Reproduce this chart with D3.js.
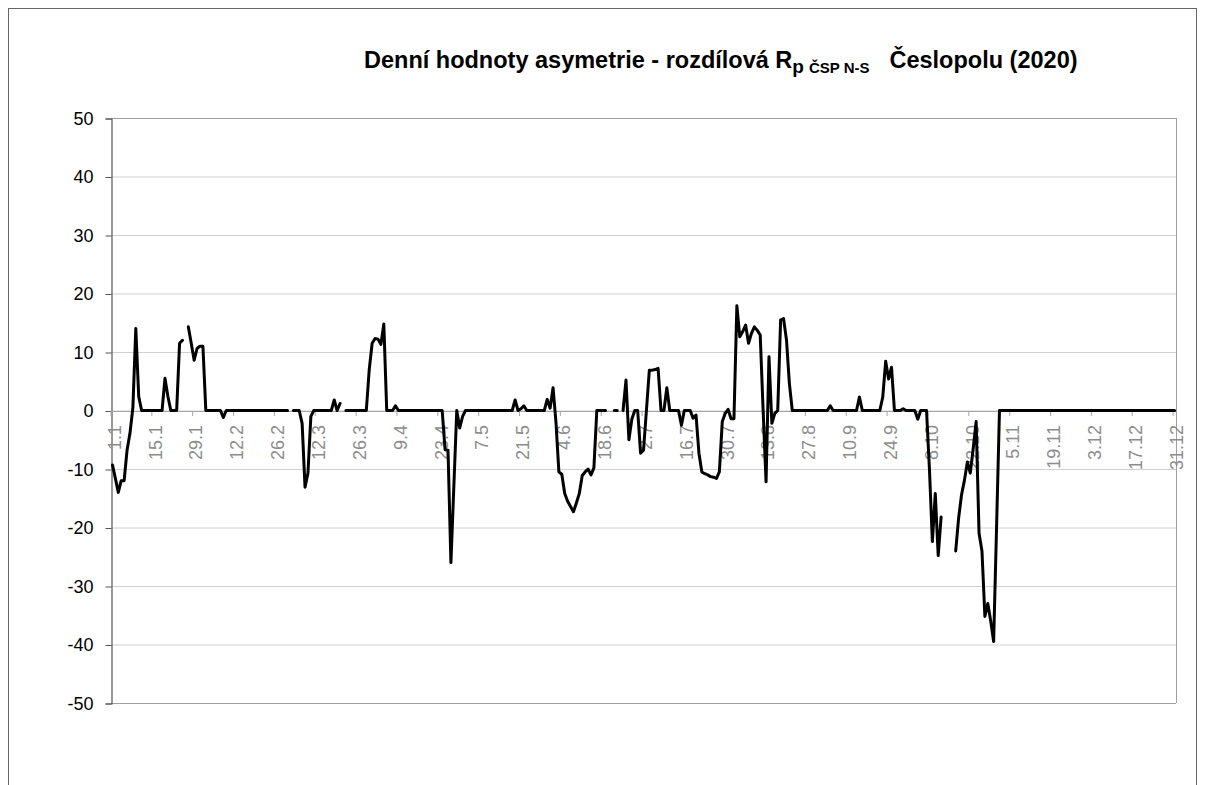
<!DOCTYPE html>
<html>
<head>
<meta charset="utf-8">
<script src="https://cdn.jsdelivr.net/npm/d3@7"></script>
<style>
  body { margin: 0; background: #fff; }
  svg { display: block; font-family: "Liberation Sans", Arial, sans-serif; }
</style>
</head>
<body>
<svg id="chart"></svg>
<script>
// daily values by month (null = no measurement)
var jan = [-9.3, -11.6, -14, -12, -12, -6.8, -3.9, 0.5, 14, 2.4, 0, 0, 0, 0, 0, 0, 0, 0, 5.5, 2.4, 0, 0, 0, 11.5, 12, null, 14.3, 11.5, 8.6, 10.6, 11]
var feb = [11, 0, 0, 0, 0, 0, 0, -1.2, 0, 0, 0, 0, 0, 0, 0, 0, 0, 0, 0, 0, 0, 0, 0, 0, 0, 0, 0, 0]
var mar = [0, 0, null, 0, 0, 0, -2.2, -13.1, -10.7, -1, 0, 0, 0, 0, 0, 0, 0, 1.8, 0, 1.2, null, 0, 0, 0, 0, 0, 0, 0, 0, 7, 11.5]
var apr = [12.3, 12.2, 11.3, 14.8, 0, 0, 0, 0.8, 0, 0, 0, 0, 0, 0, 0, 0, 0, 0, 0, 0, 0, 0, 0, 0, -6.7, -6.8, -26, -13, 0, -3]
var may = [-1, 0, 0, 0, 0, 0, 0, 0, 0, 0, 0, 0, 0, 0, 0, 0, 0, 0, 1.8, 0, 0.3, 0.8, 0, 0, 0, 0, 0, 0, 0, 1.9, 0.4]
var jun = [3.9, -2, -10.5, -10.9, -14.2, -15.5, -16.4, -17.3, -15.8, -14.2, -11.1, -10.5, -10, -11, -9.8, 0, 0, 0, 0, null, null, 0, 0, null, 0, 5.2, -5, -1.5, 0, 0]
var jul = [-7.3, -6.8, 0, 6.9, 6.9, 7.0, 7.2, 0, 0, 3.9, 0, 0, 0, 0, -2.5, 0, 0, 0, -1.3, -0.8, -7.3, -10.5, -10.8, -11.0, -11.3, -11.4, -11.6, -10.5, -1.9, -0.5, 0.2]
var aug = [-1.4, -1.4, 17.9, 12.6, 13.5, 14.6, 11.5, 13.2, 14.3, 13.7, 12.9, 0, -12.2, 9.2, -2.2, -0.5, 0, 15.5, 15.7, 12.1, 4.6, 0, 0, 0, 0, 0, 0, 0, 0, 0, 0]
var sep = [0, 0, 0, 0.8, 0, 0, 0, 0, 0, 0, 0, 0, 0, 2.3, 0, 0, 0, 0, 0, 0, 0, 2.3, 8.4, 5.4, 7.4, 0, 0, 0, 0.3, 0]
var oct = [0, 0, 0, -1.5, 0, 0, 0, -10, -22.4, -14.2, -24.8, -18.2, null, null, null, null, -24, -18.4, -14.4, -11.9, -8.8, -10.7, -6.5, -1.9, -21, -24, -35.2, -33, -36, -39.5, -20]
var nov = [0, 0, 0, 0, 0, 0, 0, 0, 0, 0, 0, 0, 0, 0, 0, 0, 0, 0, 0, 0, 0, 0, 0, 0, 0, 0, 0, 0, 0, 0]
var dec = [0, 0, 0, 0, 0, 0, 0, 0, 0, 0, 0, 0, 0, 0, 0, 0, 0, 0, 0, 0, 0, 0, 0, 0, 0, 0, 0, 0, 0, 0, 0]

// category labels shown every 14 days
var tickLabels = ["1.1", "15.1", "29.1", "12.2", "26.2", "12.3", "26.3", "9.4", "23.4", "7.5", "21.5", "4.6", "18.6",
    "2.7", "16.7", "30.7", "13.8", "27.8", "10.9", "24.9", "8.10", "22.10", "5.11", "19.11", "3.12", "17.12", "31.12"]
var yTicks = [-50, -40, -30, -20, -10, 0, 10, 20, 30, 40, 50]

var values = [].concat(jan, feb, mar, apr, may, jun, jul, aug, sep, oct, nov, dec)
var data = values.map(function (v, i) { return {i: i, v: v} })

var width = 1205, height = 785
var plotL = 111, plotR = 1176, plotT = 118, plotB = 703

var svg = d3.select("#chart")
    .attr("width", width)
    .attr("height", height)

// chart frame
svg.append("rect")
    .attr("x", 8.5).attr("y", 8.5)
    .attr("width", 1188).attr("height", 800)
    .attr("fill", "none")
    .attr("stroke", "#666")
    .attr("stroke-width", 1)

var x = d3.scaleBand()
    .domain(d3.range(values.length))
    .range([plotL, plotR])
var bw = x.bandwidth()

var y = d3.scaleLinear()
    .domain([-50, 50])
    .range([plotB, plotT])

// gridlines
svg.append("g")
    .selectAll("line")
    .data(yTicks)
    .enter()
    .append("line")
        .attr("x1", plotL).attr("x2", plotR)
        .attr("y1", d => y(d) + 0.5).attr("y2", d => y(d) + 0.5)
        .attr("stroke", d => (d == 50 || d == -50) ? "#a0a0a0" : "#d0d0d0")
        .attr("stroke-width", 1)

// right edge of plot area
svg.append("line")
    .attr("x1", plotR + 0.5).attr("x2", plotR + 0.5)
    .attr("y1", plotT).attr("y2", plotB)
    .attr("stroke", "#a0a0a0")

// y axis
var yAxis = svg.append("g")
    .attr("transform", "translate(" + (plotL + 0.5) + ",0.5)")
    .call(d3.axisLeft(y).tickValues(yTicks).tickSize(6).tickPadding(12).tickFormat(d => String(d)))
yAxis.select(".domain").attr("stroke", "#555").attr("stroke-width", 1.2)
yAxis.selectAll(".tick line").attr("stroke", "#555")
yAxis.selectAll("text")
    .attr("font-size", 18)
    .attr("font-family", "Liberation Sans, Arial, sans-serif")
    .attr("fill", "#000")

// category axis on the zero line
var tickIdx = tickLabels.map((t, k) => k * 14)
var xAxis = svg.append("g")
    .attr("transform", "translate(0," + (y(0) + 0.5) + ")")
    .call(d3.axisBottom(x).tickValues(tickIdx).tickFormat((d, k) => tickLabels[k]).tickSize(5).tickSizeOuter(0))
xAxis.select(".domain").attr("stroke", "#a6a6a6")
xAxis.selectAll(".tick line")
    .attr("x1", -bw / 2).attr("x2", -bw / 2)
    .attr("stroke", "#a6a6a6")
xAxis.selectAll("text")
    .attr("transform", "rotate(-90)")
    .attr("text-anchor", "end")
    .attr("x", -14)
    .attr("y", 2)
    .attr("dy", "0.35em")
    .attr("font-size", 18)
    .attr("font-family", "Liberation Sans, Arial, sans-serif")
    .attr("fill", "#8c8c8c")

// data line
var line = d3.line()
    .defined(d => d.v !== null)
    .x(d => x(d.i) + bw / 2)
    .y(d => y(d.v))

svg.append("path")
    .datum(data)
    .attr("d", line)
    .attr("fill", "none")
    .attr("stroke", "#000")
    .attr("stroke-width", 3)
    .attr("stroke-linejoin", "round")
    .attr("stroke-linecap", "round")

// title
var title = svg.append("text")
    .attr("x", 364)
    .attr("y", 68)
    .attr("font-size", 23.5)
    .attr("font-weight", "bold")
    .attr("fill", "#000")
title.append("tspan").text("Denní hodnoty asymetrie - rozdílová R")
title.append("tspan").attr("font-size", 19).attr("dy", 5).text("p")
title.append("tspan").attr("font-size", 15).attr("dx", 5).text("ČSP N-S")
title.append("tspan").attr("dy", -5).attr("dx", 20).text("Česlopolu (2020)")
</script>
</body>
</html>
